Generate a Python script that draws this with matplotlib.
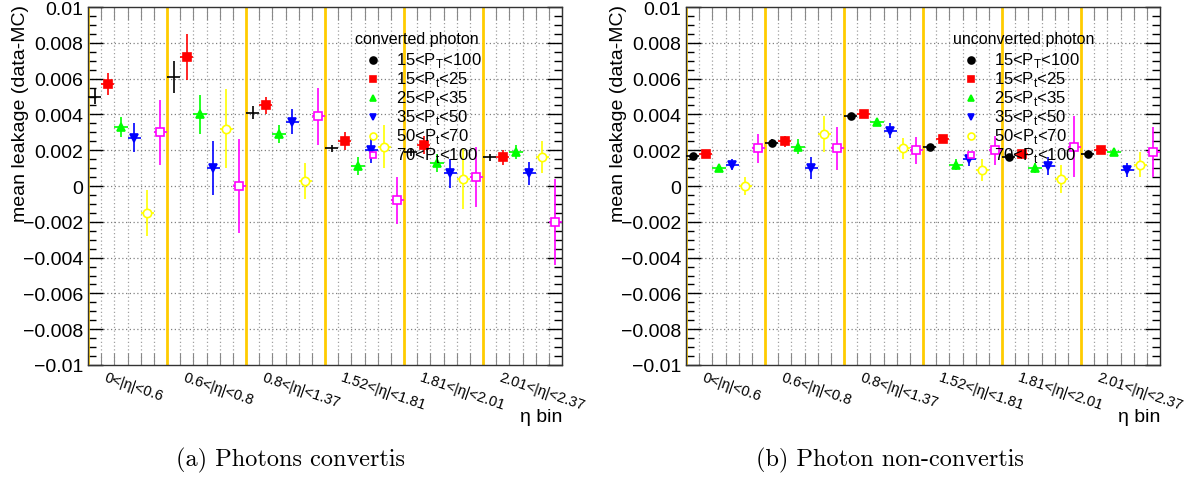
import numpy as np
import matplotlib
matplotlib.use("Agg")
import matplotlib.pyplot as plt
from matplotlib.ticker import MultipleLocator, FuncFormatter

plt.rcParams['font.family'] = ['Liberation Sans', 'DejaVu Sans']

# eta bins and pt categories
eta_labels = ["0<|η|<0.6", "0.6<|η|<0.8", "0.8<|η|<1.37",
              "1.52<|η|<1.81", "1.81<|η|<2.01", "2.01<|η|<2.37"]
cat_labels = ["15<P$_\\mathregular{T}$<100", "15<P$_\\mathregular{t}$<25",
              "25<P$_\\mathregular{t}$<35", "35<P$_\\mathregular{t}$<50",
              "50<P$_\\mathregular{t}$<70", "70<P$_\\mathregular{t}$<100"]
cat_colors = ["black", "#ff0000", "#00ff00", "#0000ff", "#ffff00", "#ff00ff"]
cat_markers = ["o", "s", "^", "v", "o", "s"]
cat_filled = [True, True, True, True, False, False]

# converted photons: one row per pt category, one value per eta bin
conv_vals = [
    [0.0050, 0.0061, 0.0041, 0.0021, 0.0019, 0.0016],
    [0.0057, 0.0072, 0.0045, 0.0025, 0.0023, 0.0016],
    [0.0033, 0.0040, 0.0029, 0.0011, 0.0013, 0.0019],
    [0.0027, 0.0010, 0.0036, 0.0020, 0.0007, 0.0007],
    [-0.0015, 0.0032, 0.0003, 0.0022, 0.0004, 0.0016],
    [0.0030, 0.0000, 0.0039, -0.0008, 0.0005, -0.0020],
]
conv_errs = [
    [0.0004, 0.0009, 0.00035, 0.0002, 0.0002, 0.0002],
    [0.0006, 0.0013, 0.0005, 0.0005, 0.0005, 0.0004],
    [0.00055, 0.0011, 0.0005, 0.0005, 0.0005, 0.0004],
    [0.0008, 0.0015, 0.0007, 0.0007, 0.0008, 0.00065],
    [0.0013, 0.0022, 0.0010, 0.0012, 0.0017, 0.0009],
    [0.0018, 0.0026, 0.0016, 0.0013, 0.0017, 0.0024],
]

# unconverted photons
unconv_vals = [
    [0.0017, 0.0024, 0.0039, 0.0022, 0.0016, 0.0018],
    [0.0018, 0.0025, 0.0040, 0.0026, 0.0018, 0.0020],
    [0.0010, 0.0022, 0.0036, 0.0012, 0.0010, 0.0019],
    [0.0012, 0.0010, 0.0031, 0.0015, 0.0011, 0.0009],
    [0.0000, 0.0029, 0.0021, 0.0009, 0.0004, 0.0012],
    [0.0021, 0.0021, 0.0020, 0.0020, 0.0022, 0.0019],
]
unconv_errs = [
    [0.0001, 0.0002, 0.0001, 0.0001, 0.0001, 0.0001],
    [0.0001, 0.0003, 0.0001, 0.0002, 0.0002, 0.0001],
    [0.0002, 0.0004, 0.0002, 0.0003, 0.0003, 0.0002],
    [0.0003, 0.0006, 0.0004, 0.0004, 0.0005, 0.0004],
    [0.0005, 0.0010, 0.0006, 0.0006, 0.0008, 0.0007],
    [0.0008, 0.0012, 0.00075, 0.0008, 0.0017, 0.0014],
]

n_eta = len(eta_labels)
n_cat = len(cat_labels)
n_bins = n_eta * n_cat


def fmt_y(v, pos):
    if abs(v) < 1e-9:
        return "0"
    s = ("%.3f" % abs(v)).rstrip("0")
    return ("\u2212" if v < 0 else "") + s


def draw_panel(ax, vals, errs, title, black_marker):
    ax.set_xlim(0, n_bins)
    ax.set_ylim(-0.01, 0.01)

    # grid
    for i in range(1, n_bins):
        if i % n_cat:
            ax.axvline(i, color="#a0a0a0", ls=(0, (1, 2)), lw=0.9, zorder=1)
    for yv in np.arange(-0.008, 0.0081, 0.002):
        ax.axhline(yv, color="#808080", ls=(0, (1, 2)), lw=0.9, zorder=1)
    for k in range(n_eta):
        ax.axvline(k * n_cat, color="#ffcc00", lw=2.0, zorder=2)

    for j in range(n_cat):
        x = np.arange(n_eta) * n_cat + j + 0.5
        mk = cat_markers[j]
        ms = 6
        if j == 0:
            mk = "o" if black_marker else "none"
            ms = 5
        face = cat_colors[j] if cat_filled[j] else "white"
        ax.errorbar(x, vals[j], yerr=errs[j], xerr=0.5, fmt=mk, ms=ms,
                    color=cat_colors[j], mfc=face, mec=cat_colors[j],
                    mew=1.2, elinewidth=1.2, capsize=0, zorder=4)

    ax.xaxis.set_major_locator(MultipleLocator(1))
    ax.xaxis.set_major_formatter(FuncFormatter(lambda v, p: ""))
    ax.tick_params(axis="x", which="major", direction="in", length=9,
                   color="#888888", top=True, bottom=True)
    ax.yaxis.set_major_locator(MultipleLocator(0.002))
    ax.yaxis.set_minor_locator(MultipleLocator(0.0005))
    ax.yaxis.set_major_formatter(FuncFormatter(fmt_y))
    ax.tick_params(axis="y", which="major", direction="in", length=11,
                   labelsize=14, left=True, right=True, width=1)
    ax.tick_params(axis="y", which="minor", direction="in", length=6,
                   left=True, right=True, width=1)
    for s in ax.spines.values():
        s.set_color("#333333")
        s.set_linewidth(1.0)

    for k, lab in enumerate(eta_labels):
        ax.text(k * n_cat + 1.4, -0.012, lab, rotation=-19,
                rotation_mode="anchor", ha="left", va="top", fontsize=10.5,
                transform=ax.get_xaxis_transform())
    ax.text(1.0, -0.12, "η bin", transform=ax.transAxes, ha="right",
            va="top", fontsize=14)

    # legend
    ax.text(0.563, 0.913, title, transform=ax.transAxes, fontsize=11.5,
            ha="left", va="center", zorder=6)
    for j in range(n_cat):
        yl = 0.853 - 0.0531 * j
        face = cat_colors[j] if cat_filled[j] else "white"
        ax.plot([0.601], [yl], transform=ax.transAxes, marker=cat_markers[j],
                ms=5, color=cat_colors[j], mfc=face, mec=cat_colors[j],
                mew=1.2, ls="none", zorder=6, clip_on=False)
        ax.text(0.65, yl, cat_labels[j], transform=ax.transAxes,
                fontsize=12, ha="left", va="center", zorder=6)


fig = plt.figure(figsize=(11.92, 4.81), dpi=100)
ax1 = fig.add_axes([88 / 1192, 115 / 481, 474 / 1192, 358 / 481])
ax2 = fig.add_axes([686 / 1192, 115 / 481, 474 / 1192, 358 / 481])

draw_panel(ax1, conv_vals, conv_errs, "converted photon", False)
draw_panel(ax2, unconv_vals, unconv_errs, "unconverted photon", True)

ax1.set_ylabel("mean leakage (data-MC)", fontsize=14)
ax2.set_ylabel("mean leakage (data-MC)", fontsize=14)
ax1.yaxis.set_label_coords(-0.125, 0.705)
ax2.yaxis.set_label_coords(-0.125, 0.705)

fig.text(291 / 1192, 1 - 460 / 481, "(a) Photons convertis",
         family="cmr10", fontsize=17.5, ha="center", va="center")
fig.text(890 / 1192, 1 - 460 / 481, "(b) Photon non-convertis",
         family="cmr10", fontsize=17.5, ha="center", va="center")

fig.savefig("out.png", dpi=100)
